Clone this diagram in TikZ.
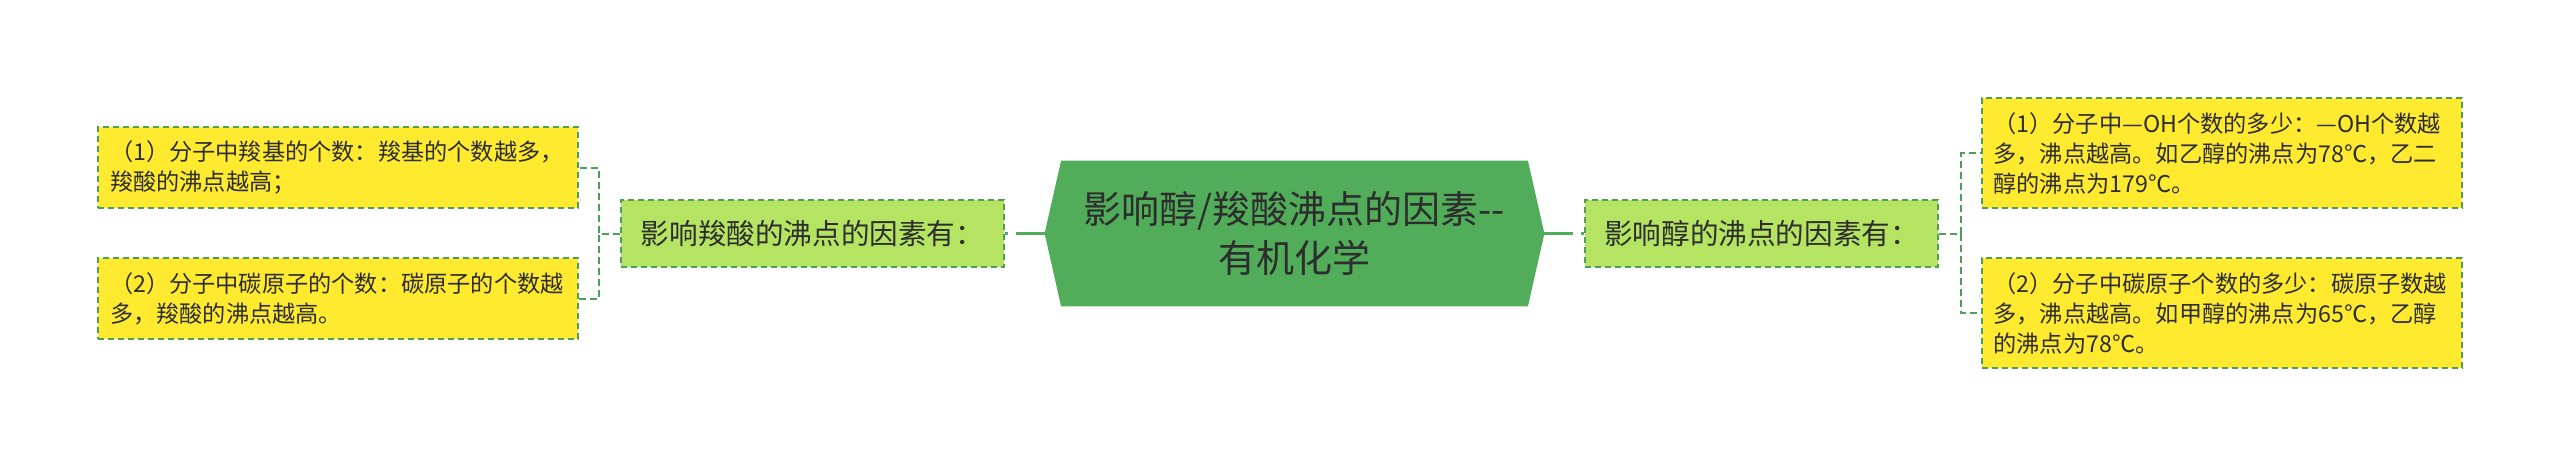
\documentclass[tikz,border=0pt]{standalone}
\usepackage{fontspec}
\setmainfont{Noto Sans CJK SC}
\usetikzlibrary{backgrounds}

\definecolor{rootgreen}{RGB}{82,173,90}
\definecolor{subgreen}{RGB}{180,228,98}
\definecolor{leafyellow}{RGB}{255,234,48}
\definecolor{edgegreen}{RGB}{78,160,86}
\definecolor{textgray}{RGB}{45,45,45}

\begin{document}
\begin{tikzpicture}[x=0.5pt,y=-0.5pt,
  every node/.append style={text=textgray},
  hexbox/.style={rectangle,inner sep=0pt,minimum width=233pt,minimum height=72.5pt,
    align=center,font=\fontsize{19pt}{24.5pt}\selectfont},
  sub/.style={rectangle,fill=subgreen,draw=edgegreen,line width=1pt,dash pattern=on 3pt off 2pt,
    minimum width=#1,minimum height=33.5pt,inner sep=0pt,font=\fontsize{14.3pt}{18pt}\selectfont},
  leaf/.style={rectangle,fill=leafyellow,draw=edgegreen,line width=1pt,dash pattern=on 3pt off 2pt,
    text width=228pt,inner xsep=6pt,inner ysep=0pt,minimum height=#1,align=left,
    font=\fontsize{11.6pt}{15pt}\selectfont},
  link/.style={draw=edgegreen,line width=1pt,dash pattern=on 3.5pt off 2pt},
  trunk/.style={draw=rootgreen,line width=1.2pt,dash pattern=on 14.5pt off 4pt}]
  \useasboundingbox (0,0) rectangle (2560,467);

  \node[hexbox] (root) at (1294.5,233.5) {影响醇/羧酸沸点的因素-{}-\\有机化学};
  \coordinate (rootl) at ([xshift=-8.25pt]root.west);
  \coordinate (rootr) at ([xshift=8.25pt]root.east);
  \begin{scope}[on background layer]
    \fill[rootgreen] (root.north west) -- (root.north east) -- (rootr)
      -- (root.south east) -- (root.south west) -- (rootl) -- cycle;
  \end{scope}

  \node[sub=191.5pt] (acid) at (812.5,233.5) {影响羧酸的沸点的因素有：};
  \node[sub=176.5pt] (alc)  at (1761.5,233.5) {影响醇的沸点的因素有：};

  \node[leaf=40.5pt] (acid1) at (338,167.5) {（1）分子中羧基的个数：羧基的个数越多，\\羧酸的沸点越高；};
  \node[leaf=40.5pt] (acid2) at (338,298.5) {（2）分子中碳原子的个数：碳原子的个数越\\多，羧酸的沸点越高。};
  \node[leaf=55pt] (alc1) at (2221.5,153) {（1）分子中—OH个数的多少：—OH个数越\\多，沸点越高。如乙醇的沸点为78℃，乙二\\醇的沸点为179℃。};
  \node[leaf=55pt] (alc2) at (2221.5,313) {（2）分子中碳原子个数的多少：碳原子数越\\多，沸点越高。如甲醇的沸点为65℃，乙醇\\的沸点为78℃。};

  \path[trunk] (rootl) -- (acid.east);
  \path[trunk] (rootr) -- (alc.west);
  \path[link] (acid.west) -- ++(-21,0) |- (acid1.east);
  \path[link] (acid.west) -- ++(-21,0) |- (acid2.east);
  \path[link] (alc.east) -- ++(22,0) |- (alc1.west);
  \path[link] (alc.east) -- ++(22,0) |- (alc2.west);
\end{tikzpicture}
\end{document}
